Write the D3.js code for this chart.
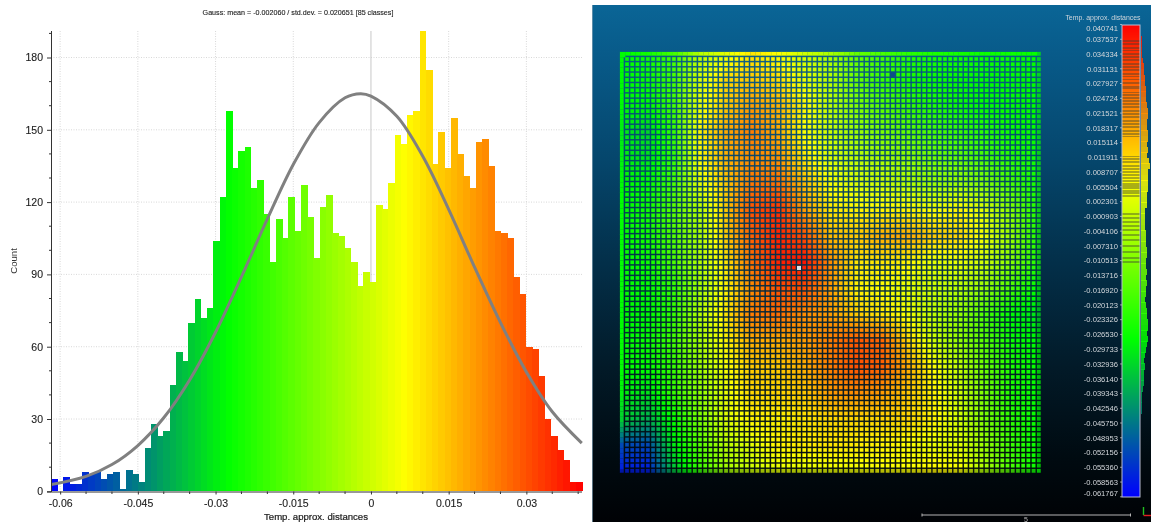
<!DOCTYPE html>
<html><head><meta charset="utf-8">
<script src="https://cdn.jsdelivr.net/npm/d3@7"></script>
<style>
html,body{margin:0;padding:0;background:#fff;overflow:hidden}
svg{display:block;font-family:"Liberation Sans",Arial,sans-serif;filter:blur(.35px)}
</style></head><body>
<svg id="c" width="1151" height="522"></svg>
<script>
const titleText="Gauss: mean = -0.002060 / std.dev. = 0.020651 [85 classes]";
const xLabel="Temp. approx. distances", yLabel="Count";
const sfMin=-0.061767, sfMax=0.040741;
const counts=[5,0,6,3,3,8,7,8,5,7,8,1,9,7,4,18,28,23,25,44,58,54,70,80,72,76,104,122,158,134,141,143,126,129,115,95,113,105,122,108,
127,114,97,118,123,107,106,101,95,85,91,87,119,117,128,148,144,156,158,191,175,136,149,134,155,140,131,126,145,146,135,108,107,105,89,82,60,59,48,30,23,17,13,4,4];
const xTicks=[-0.06,-0.045,-0.03,-0.015,0,0.015,0.03];
const xMinor=[-0.055,-0.05,-0.04,-0.035,-0.025,-0.02,-0.01,-0.005,0.005,0.01,0.02,0.025,0.035,0.04];
const yTicks=[0,30,60,90,120,150,180];
const yMinor=[10,20,40,50,70,80,100,110,130,140,160,170,190];
const gaussX=[-0.0617,-0.055,-0.05,-0.045,-0.04,-0.035,-0.03,-0.025,-0.02,-0.015,-0.01,-0.005,-0.002,0,0.005,0.01,0.015,0.02,0.025,0.03,0.035,0.0407];
const gaussY=[2.8,6.2,11.1,19,30.5,46.2,66,89,113,135.6,153,163.3,165,164,155.6,139,117,93,70,49.5,33,20];
const colorStops=[0,1/3,2/3,1];
const colorNames=["#0000ff","#00ff00","#ffff00","#ff0000"];
const sfLabels=["0.040741","0.037537","0.034334","0.031131","0.027927","0.024724","0.021521","0.018317","0.015114","0.011911","0.008707","0.005504","0.002301","-0.000903","-0.004106","-0.007310","-0.010513","-0.013716","-0.016920","-0.020123","-0.023326","-0.026530","-0.029733","-0.032936","-0.036140","-0.039343","-0.042546","-0.045750","-0.048953","-0.052156","-0.055360","-0.058563","-0.061767"];
const sfTitle="Temp. approx. distances", scaleText="5";
// colour-bar rows where the cloud has no points (thousandths)
const dimRows=[37.16,36.51,35.75,35.2,34.34,33.69,33.04,32.17,31.52,30.87,30,29.56,28.91,28.05,27.39,26.96,26.09,25.44,24.79,24.14,23.49,22.84,21.97,21.32,20.67,19.8,19.15,18.5,17.63,16.98,16.54,12.2,11.55,10.9,10.03,9.38,8.73,8.08,7.43,6.78,6.13,5.69,5.26,4.61,4.17,3.52,-0.38,-1.25,-2.12,-2.99,-3.85,-4.94,-6.03,-7.33,-8.63,-9.93,-10.8];
// surface values (thousandths) read on a coarse 17x17 lattice of the picture
const fieldGrid=[
[-28,-25,-18,-3,3,10,6,0,-5,-14,-18,-22,-24,-25,-26,-26,-27],
[-28,-26,-18,2,12,14,11,4,-3,-13,-20,-24,-26,-27,-27,-27,-27],
[-28,-28,-18,4,14,20,17,8,-2,-10,-16,-20,-23,-26,-27,-27,-27],
[-30,-33,-20,8,18,24,18,6,0,-6,-11,-15,-18,-20,-22,-26,-27],
[-29,-31,-20,7,17,22,21,10,2,-2,-5,-8,-12,-14,-18,-22,-26],
[-28,-27,-17,3,14,25,26,16,6,2,0,-3,-6,-6,-10,-18,-25],
[-27,-25,-15,-3,14,30,34,20,10,8,8,8,6,8,2,-10,-24],
[-27,-25,-16,-4,14,28,36,30,16,14,18,18,14,12,4,-8,-24],
[-27,-26,-17,-3,10,26,36,38,22,10,10,8,3,4,0,-10,-24],
[-27,-27,-20,-5,8,22,30,30,20,8,6,3,0,-3,-8,-18,-28],
[-28,-28,-20,-3,10,24,26,22,20,14,10,5,-2,-8,-18,-28,-31],
[-27,-26,-18,-5,8,18,18,20,24,29,27,12,0,-8,-16,-26,-28],
[-27,-27,-20,-6,6,14,14,18,24,30,28,18,6,-2,-14,-24,-27],
[-29,-31,-20,-8,4,12,12,14,20,22,20,14,8,0,-12,-24,-27],
[-34,-38,-26,-11,2,8,8,10,12,12,12,12,8,0,-12,-22,-27],
[-52,-52,-30,-16,-3,3,8,9,10,9,8,6,4,2,-8,-20,-27],
[-58,-58,-36,-20,-6,0,3,3,4,5,6,6,8,6,-5,-18,-27]];
const gridCells=81;

const svg=d3.select("#c");
const sfColor=d3.scaleLinear().domain(colorStops.map(t=>sfMin+t*(sfMax-sfMin))).range(colorNames).clamp(true);

/* ---------- histogram ---------- */
const x=d3.scaleLinear().domain([sfMin,sfMax]).range([51,582]);
const y=d3.scaleLinear().domain([0,191]).range([491.3,31]);
const binW=(sfMax-sfMin)/counts.length;
const L=svg.append("g");
const grid=L.append("g").attr("stroke","#d8d8d8").attr("stroke-width",1).attr("stroke-dasharray","1,1.5");
grid.selectAll(".v").data(xTicks.filter(d=>d!==0)).join("line").attr("x1",d=>x(d)).attr("x2",d=>x(d)).attr("y1",31).attr("y2",491);
grid.selectAll(".h").data(yTicks.filter(d=>d>0)).join("line").attr("x1",51).attr("x2",582).attr("y1",d=>y(d)).attr("y2",d=>y(d));
L.append("line").attr("x1",x(0)).attr("x2",x(0)).attr("y1",31).attr("y2",491).attr("stroke","#c8c8c8");
L.append("g").attr("shape-rendering","crispEdges").selectAll("rect").data(counts).join("rect")
 .attr("x",(d,i)=>x(sfMin+i*binW)).attr("width",(d,i)=>x(sfMin+(i+1)*binW)-x(sfMin+i*binW)+.5)
 .attr("y",d=>y(d)).attr("height",d=>y(0)-y(d))
 .attr("fill",(d,i)=>sfColor(sfMin+(i+.5)*binW));
L.append("path").datum(d3.zip(gaussX,gaussY)).attr("fill","none").attr("stroke","#808080").attr("stroke-width",3)
 .attr("d",d3.line().x(d=>x(d[0])).y(d=>y(d[1])).curve(d3.curveCatmullRom));
const axisCol="#333";
const fmtX=d=>d===0?"0":String(d);
const gx=L.append("g").attr("transform","translate(0,491.5)")
 .call(d3.axisBottom(x).tickValues(xTicks).tickFormat(fmtX).tickSize(3).tickPadding(5));
const gy=L.append("g").attr("transform","translate(51,0)")
 .call(d3.axisLeft(y).tickValues(yTicks).tickSize(4).tickPadding(4));
[gx,gy].forEach(g=>{g.selectAll("path,line").attr("stroke",axisCol);g.selectAll("text").attr("fill","#222").attr("font-size",10.5).attr("font-family","inherit").attr("stroke","#222").attr("stroke-width",.12)});
gx.select("path").attr("d","M47,0.5H582");
gy.select("path").attr("d","M0.5,31V492");
L.append("g").selectAll("line").data(xMinor).join("line").attr("x1",d=>x(d)).attr("x2",d=>x(d)).attr("y1",491.5).attr("y2",494).attr("stroke",axisCol);
L.append("g").selectAll("line").data(yMinor).join("line").attr("x1",49).attr("x2",51).attr("y1",d=>y(d)).attr("y2",d=>y(d)).attr("stroke",axisCol);
L.append("text").attr("x",298).attr("y",15).attr("text-anchor","middle").attr("font-size",7.15).attr("fill","#222").attr("stroke","#222").attr("stroke-width",.12).text(titleText);
L.append("text").attr("x",316).attr("y",519.5).attr("text-anchor","middle").attr("font-size",9.6).attr("fill","#222").attr("stroke","#222").attr("stroke-width",.22).text(xLabel);
L.append("text").attr("transform","translate(17,261) rotate(-90)").attr("text-anchor","middle").attr("font-size",9.6).attr("fill","#333").text(yLabel);

/* ---------- 3D view ---------- */
const defs=svg.append("defs");
const bg=defs.append("linearGradient").attr("id","bg").attr("x1",0).attr("x2",0).attr("y1",0).attr("y2",1);
[[0,"#0a6596"],[.1,"#085a89"],[.3,"#05466c"],[.5,"#032f49"],[.7,"#021a28"],[.88,"#000a10"],[1,"#000205"]].forEach(s=>bg.append("stop").attr("offset",s[0]).attr("stop-color",s[1]));
const R=svg.append("g");
R.append("rect").attr("x",592).attr("y",5).attr("width",559).attr("height",517).attr("fill","url(#bg)");
R.append("line").attr("x1",592.5).attr("x2",592.5).attr("y1",5).attr("y2",522).attr("stroke","#7f9fb4").attr("stroke-opacity",.7);

// sample the read lattice at each cell of the displayed point grid
function fieldAt(u,v){
  const n=fieldGrid.length-1, a=Math.min(n-1e-6,u*n), b=Math.min(n-1e-6,v*n), i=Math.floor(a), j=Math.floor(b), s=a-i, t=b-j;
  const top=d3.interpolateNumber(fieldGrid[j][i],fieldGrid[j][i+1])(s), bot=d3.interpolateNumber(fieldGrid[j+1][i],fieldGrid[j+1][i+1])(s);
  return d3.interpolateNumber(top,bot)(t)/1000;
}
const cellIdx=d3.range(gridCells);
const cx=d3.scaleLinear().domain([0,gridCells-1]).range([620,1037]);
const cy=d3.scaleLinear().domain([0,gridCells-1]).range([52,469]);
const pitch=cx(1)-cx(0), sq=3.6;
const cells=cellIdx.flatMap(j=>cellIdx.map(i=>({i,j,v:fieldAt(i/(gridCells-1),j/(gridCells-1))})));
const last=gridCells-1;
R.append("g").selectAll("rect").data(cells).join("rect")
 .attr("x",d=>cx(d.i)).attr("y",d=>cy(d.j))
 .attr("width",d=>(d.j===0&&d.i<last)?pitch:sq)
 .attr("height",d=>(d.i===0&&d.j<last)?pitch:sq)
 .attr("fill",d=>sfColor(d.v))
 .attr("stroke",d=>sfColor(d.v)).attr("stroke-width",.8).attr("stroke-opacity",.22)
 .attr("fill-opacity",d=>(d.i===last||d.j===last)?.72:1);
R.append("rect").attr("x",cx(52)-1).attr("y",cy(4)-1).attr("width",6).attr("height",6).attr("fill","#0b4f86");
R.append("rect").attr("x",797).attr("y",266).attr("width",4).attr("height",4).attr("fill","#d8e4ea");

/* ---------- colour scale ---------- */
const sy=d3.scaleLinear().domain([sfMin,sfMax]).range([496.8,24.5]);
const S=svg.append("g");
const barRows=d3.range(25,497);
S.append("g").attr("shape-rendering","crispEdges").selectAll("rect").data(barRows).join("rect")
 .attr("x",1122).attr("width",18).attr("y",d=>d).attr("height",1).attr("fill",d=>sfColor(sy.invert(d+.5)));
S.append("g").attr("shape-rendering","crispEdges").selectAll("rect").data(dimRows).join("rect")
 .attr("x",1122).attr("width",18).attr("y",d=>sy(d/1000)-.5).attr("height",1.6).attr("fill","#3c4030").attr("fill-opacity",.42);
S.append("rect").attr("x",1122).attr("y",25).attr("width",18).attr("height",472).attr("fill","none").attr("stroke","#b9bdd2").attr("stroke-width",1);
// side histogram of the colour scale
const sideW=d3.scaleLinear().domain([0,191]).range([1141,1150]);
S.append("g").attr("shape-rendering","crispEdges").selectAll("rect").data(counts).join("rect")
 .attr("x",1141).attr("y",(d,i)=>sy(sfMin+(i+1)*binW)).attr("height",Math.abs(sy(0)-sy(binW))+.5)
 .attr("width",d=>sideW(d)-1141).attr("fill",(d,i)=>sfColor(sfMin+(i+.5)*binW)).attr("fill-opacity",.85);
const labelY=d=>Math.min(492.7,Math.max(27.7,sy(+d)));
S.append("g").selectAll("text").data(sfLabels).join("text")
 .attr("x",1118).attr("y",d=>labelY(d)+2.8).attr("text-anchor","end").attr("font-size",7.6).attr("fill","#d4d8dc").text(d=>d);
S.append("g").selectAll("line").data(sfLabels).join("line")
 .attr("x1",1120).attr("x2",1122).attr("y1",d=>sy(+d)).attr("y2",d=>sy(+d)).attr("stroke","#ccc").attr("stroke-width",.7);
S.append("text").attr("x",1103).attr("y",20).attr("text-anchor","middle").attr("font-size",6.95).attr("fill","#cfd6dc").text(sfTitle);
// scale bar & triad
S.append("path").attr("d","M922,513.5V516.5M922,515H1130.5M1130.5,513.5V516.5").attr("stroke","#b4b4b4").attr("fill","none");
S.append("text").attr("x",1026).attr("y",521.5).attr("text-anchor","middle").attr("font-size",7).attr("fill","#bbb").text(scaleText);
S.append("line").attr("x1",1143.5).attr("x2",1143.5).attr("y1",507).attr("y2",515).attr("stroke","#20c020").attr("stroke-width",1.4);
S.append("line").attr("x1",1143.5).attr("x2",1151).attr("y1",515.5).attr("y2",515.5).attr("stroke","#e02020").attr("stroke-width",1.4);
</script>
</body></html>
